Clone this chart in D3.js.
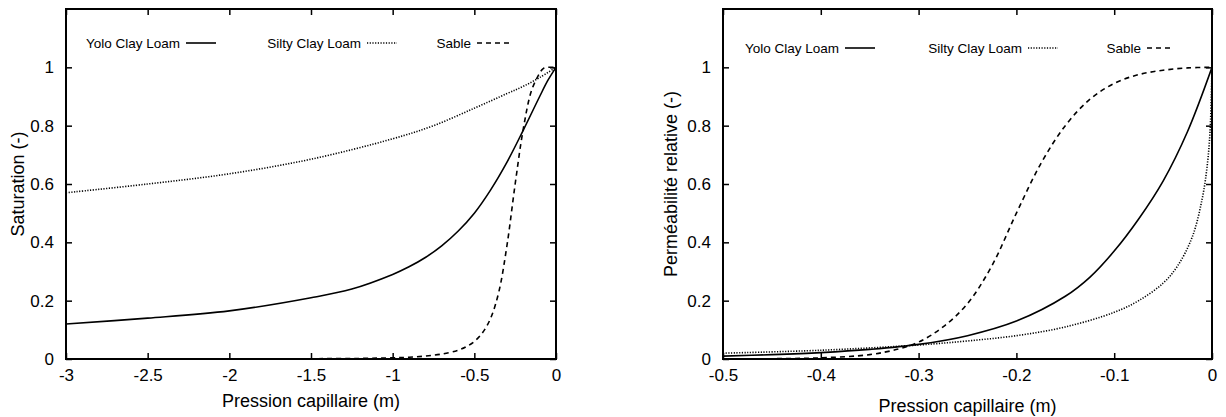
<!DOCTYPE html>
<html><head><meta charset="utf-8">
<script src="https://cdn.jsdelivr.net/npm/d3@7"></script>
<style>body{margin:0;background:#fff}svg{display:block}text{font-family:"Liberation Sans",Arial,sans-serif;fill:#000}</style>
</head><body><svg id="c" width="1226" height="417"></svg>
<script>
// ---- Data: left panel (Saturation) ----
const satYoloX  = [-3, -2.5, -2, -1.5, -1.25, -1, -0.9, -0.8, -0.7, -0.6, -0.5, -0.4, -0.3, -0.2, -0.1, -0.05, 0];
const satYoloY  = [0.12, 0.14, 0.165, 0.21, 0.24, 0.29, 0.316, 0.348, 0.388, 0.438, 0.50, 0.58, 0.675, 0.785, 0.90, 0.955, 1.0];
const satSiltyX = [-3, -2.5, -2, -1.5, -1, -0.75, -0.5, -0.3, -0.2, -0.1, 0];
const satSiltyY = [0.57, 0.60, 0.635, 0.685, 0.755, 0.80, 0.86, 0.91, 0.935, 0.965, 1.0];
const satSableX = [-3, -2, -1.5, -1.2, -1, -0.9, -0.8, -0.7, -0.6, -0.55, -0.5, -0.45, -0.4, -0.35, -0.3, -0.25, -0.2, -0.15, -0.1, -0.08, -0.05, 0];
const satSableY = [0, 0, 0.001, 0.002, 0.004, 0.006, 0.01, 0.017, 0.03, 0.042, 0.06, 0.09, 0.14, 0.23, 0.39, 0.60, 0.79, 0.92, 0.98, 0.995, 1.0, 1.0];
// ---- Data: right panel (Perméabilité relative) ----
const kYoloX  = [-0.5, -0.45, -0.4, -0.35, -0.3, -0.25, -0.2, -0.15, -0.125, -0.1, -0.075, -0.05, -0.025, 0];
const kYoloY  = [0.01, 0.015, 0.022, 0.033, 0.05, 0.08, 0.13, 0.215, 0.28, 0.37, 0.48, 0.61, 0.78, 1.0];
const kSiltyX = [-0.5, -0.4, -0.3, -0.25, -0.2, -0.15, -0.1, -0.075, -0.05, -0.035, -0.02, -0.01, -0.005, -0.002, 0];
const kSiltyY = [0.02, 0.03, 0.048, 0.062, 0.08, 0.11, 0.16, 0.20, 0.26, 0.32, 0.42, 0.55, 0.66, 0.78, 1.0];
const kSableX = [-0.5, -0.45, -0.4, -0.35, -0.32, -0.3, -0.275, -0.25, -0.225, -0.2, -0.175, -0.15, -0.125, -0.1, -0.075, -0.05, -0.025, 0];
const kSableY = [0, 0.001, 0.004, 0.015, 0.035, 0.058, 0.11, 0.19, 0.32, 0.50, 0.67, 0.80, 0.89, 0.945, 0.975, 0.99, 0.998, 1.0];
// ---- Labels / ticks ----
const seriesNames = ["Yolo Clay Loam", "Silty Clay Loam", "Sable"];
const satXTicks = [-3, -2.5, -2, -1.5, -1, -0.5, 0];
const kXTicks = [-0.5, -0.4, -0.3, -0.2, -0.1, 0];
const yTicks = [0, 0.2, 0.4, 0.6, 0.8, 1];
const xTitle = "Pression capillaire (m)";
const satYTitle = "Saturation (-)";
const kYTitle = "Perméabilité relative (-)";

const styles = [
  {dash: null},
  {dash: "1.2,1.5"},
  {dash: "5,4"}
];

const svg = d3.select("#c");
const fmt = d => String(d);

function panel(opt) {
  const g = svg.append("g");
  const x = d3.scaleLinear().domain(opt.xDomain).range([opt.left, opt.right]);
  const y = d3.scaleLinear().domain([0, 1.2]).range([opt.bottom, opt.top]);
  const tl = 6;
  g.append("g").attr("transform", `translate(0,${opt.bottom})`)
    .call(d3.axisBottom(x).tickValues(opt.xTicks).tickSize(-tl).tickPadding(10).tickFormat(fmt))
    .call(a => { a.select(".domain").remove(); a.selectAll("text").style("font-size", "17px"); a.selectAll("line").attr("stroke-width", 1.5); });
  g.append("g").attr("transform", `translate(0,${opt.top})`)
    .call(d3.axisTop(x).tickValues(opt.xTicks).tickSize(-tl).tickFormat(""))
    .call(a => { a.select(".domain").remove(); a.selectAll("line").attr("stroke-width", 1.5); });
  g.append("g").attr("transform", `translate(${opt.left},0)`)
    .call(d3.axisLeft(y).tickValues(yTicks).tickSize(-tl).tickPadding(12).tickFormat(fmt))
    .call(a => { a.select(".domain").remove(); a.selectAll("text").style("font-size", "17px"); a.selectAll("line").attr("stroke-width", 1.5); });
  g.append("g").attr("transform", `translate(${opt.right},0)`)
    .call(d3.axisRight(y).tickValues(yTicks).tickSize(-tl).tickFormat(""))
    .call(a => { a.select(".domain").remove(); a.selectAll("line").attr("stroke-width", 1.5); });

  const clipId = "clip" + opt.left;
  svg.append("clipPath").attr("id", clipId).append("rect")
    .attr("x", opt.left).attr("y", opt.top).attr("width", opt.right - opt.left).attr("height", opt.bottom - opt.top);

  const line = d3.line().x(d => x(d[0])).y(d => y(d[1])).curve(d3.curveCatmullRom.alpha(0.5));
  opt.series.forEach((s, i) => {
    const pts = s.x.map((v, j) => [v, s.y[j]]);
    g.append("path").datum(pts).attr("d", line).attr("fill", "none")
      .attr("stroke", "#000").attr("stroke-width", 1.6)
      .attr("clip-path", `url(#${clipId})`)
      .attr("stroke-dasharray", styles[i].dash);
  });

  g.append("rect").attr("x", opt.left).attr("y", opt.top)
    .attr("width", opt.right - opt.left).attr("height", opt.bottom - opt.top)
    .attr("fill", "none").attr("stroke", "#000").attr("stroke-width", 2);

  seriesNames.forEach((n, i) => {
    const [s0, s1] = opt.legend[i];
    g.append("text").attr("x", s0 - 6).attr("y", opt.legendY).attr("dy", "0.35em")
      .attr("text-anchor", "end").style("font-size", "13.5px").text(n);
    g.append("line").attr("x1", s0).attr("x2", s1).attr("y1", opt.legendY).attr("y2", opt.legendY)
      .attr("stroke", "#000").attr("stroke-width", 1.6).attr("stroke-dasharray", styles[i].dash);
  });

  g.append("text").attr("x", (opt.left + opt.right) / 2).attr("y", opt.xTitleY)
    .attr("text-anchor", "middle").style("font-size", "18px").text(xTitle);
  g.append("text").attr("transform", `translate(${opt.yTitleX},${(opt.top + opt.bottom) / 2}) rotate(-90)`)
    .attr("text-anchor", "middle").style("font-size", "18px").text(opt.yTitle);
}

panel({
  left: 66, right: 556, top: 9, bottom: 359,
  xDomain: [-3, 0], xTicks: satXTicks,
  series: [{x: satYoloX, y: satYoloY}, {x: satSiltyX, y: satSiltyY}, {x: satSableX, y: satSableY}],
  legend: [[186, 216], [367, 397], [477, 513]], legendY: 43,
  xTitleY: 407, yTitleX: 24, yTitle: satYTitle
});
panel({
  left: 723, right: 1212, top: 9, bottom: 359,
  xDomain: [-0.5, 0], xTicks: kXTicks,
  series: [{x: kYoloX, y: kYoloY}, {x: kSiltyX, y: kSiltyY}, {x: kSableX, y: kSableY}],
  legend: [[845, 875], [1028, 1058], [1147, 1173]], legendY: 48,
  xTitleY: 412, yTitleX: 677, yTitle: kYTitle
});
</script></body></html>
